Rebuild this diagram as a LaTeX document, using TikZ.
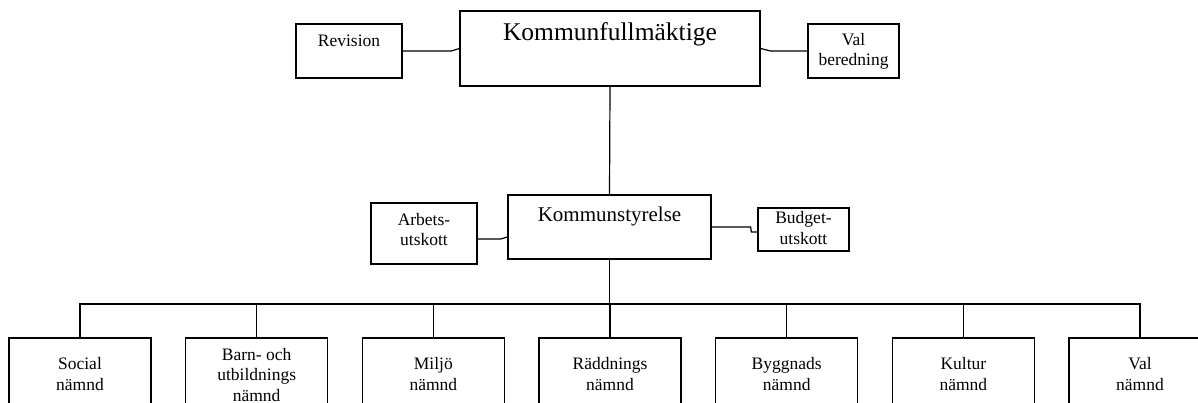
\documentclass[tikz,border=0pt]{standalone}
\usepackage{fontspec}
\setmainfont{Liberation Serif}
\begin{document}
\begin{tikzpicture}[x=1pt,y=-1pt,
  box/.style={draw=black, line width=1.3pt, rectangle, inner sep=0pt},
  conn/.style={draw=black, line width=1.2pt},
  lbl/.style={inner sep=0pt, anchor=base, align=center, font=\fontsize{17.5}{20.5}\selectfont},
  big/.style={inner sep=0pt, anchor=base, font=\fontsize{25.5}{30}\selectfont},
  mid/.style={inner sep=0pt, anchor=base, font=\fontsize{21}{25}\selectfont},
  bot/.style={box, minimum width=142pt, minimum height=100pt}]
\useasboundingbox (0,0) rectangle (1198,403);
% top level
\node[box, minimum width=300pt, minimum height=75pt] (kf) at (610,48.5) {};
\node[big] (kft) at (610,41) {Kommunfullmäktige};
\node[box, minimum width=106pt, minimum height=54pt] (rev) at (349,51) {};
\node[lbl] (revt) at (349,47) {Revision};
\node[box, minimum width=91pt, minimum height=54pt] (vb) at (853.5,51) {};
\node[lbl] (vbt) at (853.5,66) {Val\\beredning};
% second level
\node[box, minimum width=203pt, minimum height=64pt] (ks) at (609.5,227) {};
\node[mid] (kst) at (609.5,222) {Kommunstyrelse};
\node[box, minimum width=106pt, minimum height=61pt] (ab) at (424,233.5) {};
\node[lbl] (abt) at (424,246) {Arbets-\\utskott};
\node[box, minimum width=91pt, minimum height=43pt] (bu) at (803.5,229.5) {};
\node[lbl] (but) at (803.5,244) {Budget-\\utskott};
% bottom level
\coordinate (bus) at (0,304);
\foreach \i in {0,...,6}{
  \node[bot] (n\i) at ({80+176.67*\i},388) {};
}
\node[lbl] (t0) at (80,390) {Social\\nämnd};
\node[lbl] (t1) at (256.67,401) {Barn- och\\utbildnings\\nämnd};
\node[lbl] (t2) at (433.33,390) {Miljö\\nämnd};
\node[lbl] (t3) at (610,390) {Räddnings\\nämnd};
\node[lbl] (t4) at (786.67,390) {Byggnads\\nämnd};
\node[lbl] (t5) at (963.33,390) {Kultur\\nämnd};
\node[lbl] (t6) at (1140,390) {Val\\nämnd};
% connectors
\draw[conn] (rev.east) -- ([xshift=-8pt]kf.west |- rev.east) -- (kf.west);
\draw[conn] (kf.east) -- ([xshift=10pt]kf.east |- vb.west) -- (vb.west);
\draw[conn] (kf.south) -- (ks.north);
\draw[conn] ([yshift=-5.5pt]ab.east) -- ++(23pt,0) -- ([yshift=-10pt]ks.west);
\draw[conn] (ks.east) -- ([xshift=39pt]ks.east) -- ([xshift=-6pt,yshift=-2.5pt]bu.west) -- ([yshift=-2.5pt]bu.west);
\draw[conn] (ks.south) -- (ks.south |- bus);
\foreach \i in {0,...,6}{
  \draw[conn] (ks.south |- bus) -| (n\i.north);
}
\end{tikzpicture}
\end{document}
